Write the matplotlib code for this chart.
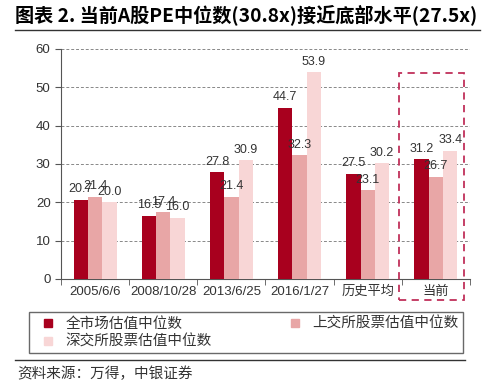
import numpy as np
import matplotlib.pyplot as plt
from matplotlib.patches import Rectangle
from matplotlib.lines import Line2D

plt.rcParams['font.family'] = ['Liberation Sans', 'Noto Sans CJK SC', 'DejaVu Sans']

categories = ['2005/6/6', '2008/10/28', '2013/6/25', '2016/1/27', '历史平均', '当前']
series_names = ['全市场估值中位数', '上交所股票估值中位数', '深交所股票估值中位数']
all_market = [20.7, 16.5, 27.8, 44.7, 27.5, 31.2]
sh_market = [21.4, 17.4, 21.4, 32.3, 23.1, 26.7]
sz_market = [20.0, 16.0, 30.9, 53.9, 30.2, 33.4]
colors = ['#A8001E', '#E8A6A6', '#F8D6D6']

fig = plt.figure(figsize=(5, 3.88), dpi=100)
ax = fig.add_axes([0.122, 0.281, 0.818, 0.593])

x = np.arange(len(categories))
w = 0.21
for i, (vals, c) in enumerate(zip([all_market, sh_market, sz_market], colors)):
    pos = x + (i - 1) * w
    ax.bar(pos, vals, width=w, color=c, zorder=3)
    for p, v in zip(pos, vals):
        ax.text(p, v + 1.2, f'{v:.1f}', ha='center', va='bottom', fontsize=9,
                color='#333333', zorder=4)

ax.set_xlim(-0.5, len(categories) - 0.5)
ax.set_ylim(0, 60)
ax.set_yticks(range(0, 61, 10))
ax.yaxis.grid(True, linestyle=(0, (3, 2)), color='#888888', linewidth=0.7, zorder=0)
ax.set_xticks(x)
ax.set_xticklabels(categories, fontsize=9.5)
ax.set_xticks(np.arange(-0.5, len(categories), 1), minor=True)
ax.tick_params(axis='x', which='major', length=0, pad=5, labelcolor='#333333')
ax.tick_params(axis='x', which='minor', length=4, direction='out', color='#555555')
ax.tick_params(axis='y', length=4, direction='out', labelsize=9.5, color='#555555',
               labelcolor='#333333')
for s in ['top', 'right']:
    ax.spines[s].set_visible(False)
for s in ['left', 'bottom']:
    ax.spines[s].set_color('#555555')

# dashed highlight box around the current values
fig.patches.append(Rectangle((0.798, 0.227), 0.13, 0.585, transform=fig.transFigure,
                             fill=False, edgecolor='#C0305A', linestyle=(0, (4, 3)),
                             linewidth=1.3))

handles = [Line2D([], [], marker='s', linestyle='none', markersize=6,
                  markerfacecolor=c, markeredgecolor=c) for c in colors]
order = [0, 2, 1]
leg = fig.legend([handles[i] for i in order], [series_names[i] for i in order],
                 loc='lower left', ncol=2,
                 bbox_to_anchor=(0.058, 0.09, 0.868, 0.111), mode='expand',
                 frameon=True, fancybox=False, handletextpad=0.2,
                 borderpad=0.3, labelspacing=0.25, borderaxespad=0,
                 prop={'family': ['Noto Sans CJK SC', 'DejaVu Sans'], 'size': 10.5})
leg.get_frame().set_edgecolor('#444444')
leg.get_frame().set_linewidth(1.0)
for t in leg.get_texts():
    t.set_color('#333333')

fig.text(0.03, 0.962, '图表 2. 当前A股PE中位数(30.8x)接近底部水平(27.5x)',
         fontsize=13.8, fontweight='bold', va='center', ha='left',
         family=['Noto Sans CJK SC', 'DejaVu Sans'])
fig.add_artist(Line2D([0.03, 0.96], [0.923, 0.923], color='#333333', linewidth=1.0))
fig.add_artist(Line2D([0.03, 0.93], [0.072, 0.072], color='#333333', linewidth=1.0))
fig.text(0.035, 0.036, '资料来源：万得，中银证券', fontsize=10.5, va='center', ha='left',
         color='#333333', family=['Noto Sans CJK SC', 'DejaVu Sans'])

fig.savefig('out.png', dpi=100)
